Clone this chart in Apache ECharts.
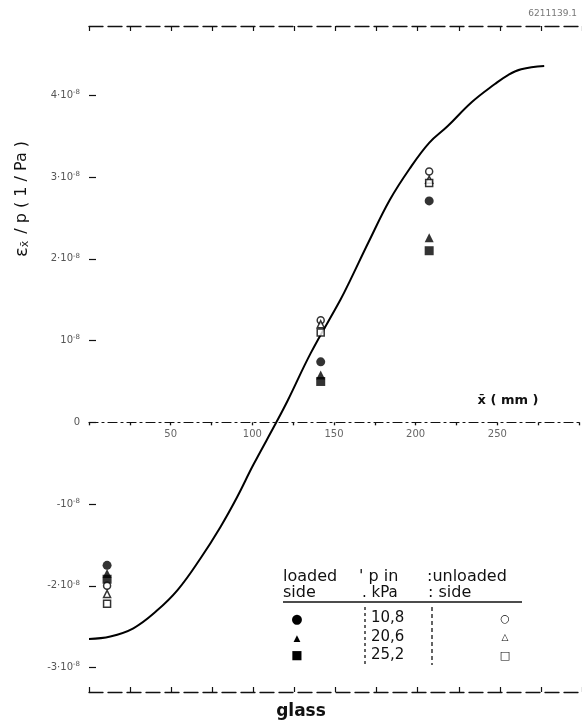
<!DOCTYPE html>
<html>
<head>
<meta charset="utf-8">
<script src="https://cdn.jsdelivr.net/npm/echarts@6/dist/echarts.min.js"></script>
<style>html,body{margin:0;padding:0;background:#fff;}#c{width:582px;height:727px;}</style>
</head>
<body>
<div id="c"></div>
<script>
// Values of eps/p are in units of 1e-8 1/Pa
const curveX = [0,13,27,41,54,68,80,90,100,114,121,135,153,159,170,183,195,207,218,233,247,255,263,277];
const curveY = [-2.65,-2.62,-2.52,-2.31,-2.05,-1.66,-1.28,-0.92,-0.52,0,0.27,0.85,1.5,1.74,2.2,2.72,3.1,3.42,3.62,3.92,4.14,4.25,4.32,4.36];

const pointX = [11, 141, 207];
const loadedCircle   = [-1.75, 0.74, 2.71];   // 10,8 kPa
const loadedTriangle = [-1.85, 0.58, 2.26];   // 20,6 kPa
const loadedSquare   = [-1.92, 0.50, 2.10];   // 25,2 kPa
const unloadedCircle   = [-2.00, 1.25, 3.07];
const unloadedTriangle = [-2.10, 1.20, 2.97];
const unloadedSquare   = [-2.22, 1.10, 2.93];

const yTickValues = [4, 3, 2, 1, 0, -1, -2, -3];
const yTickLabels = ['4·10{s|-8}', '3·10{s|-8}', '2·10{s|-8}', '10{s|-8}', '0', '-10{s|-8}', '-2·10{s|-8}', '-3·10{s|-8}'];
const xLabelValues = [50, 100, 150, 200, 250];

const pressures = ['10,8', '20,6', '25,2'];

const zip = (xs, ys) => xs.map((x, i) => [x, ys[i]]);
const FONT = 'DejaVu Sans';

const Y_MIN = -3.3, Y_MAX = 4.85;
const GRID_TOP = 26, GRID_BOTTOM = 35, H = 727;
const plotH = H - GRID_TOP - GRID_BOTTOM;
const zeroFromBottom = H - (GRID_TOP + plotH * Y_MAX / (Y_MAX - Y_MIN));

const chart = echarts.init(document.getElementById('c'));

const frameAxis = (pos) => ({
  type: 'value', gridIndex: 0, min: 0, max: 300, interval: 25, position: pos,
  axisLine: { show: true, onZero: false, lineStyle: { color: '#111', width: 1.3, type: [14, 5] } },
  axisTick: { show: true, inside: true, length: 5, lineStyle: { color: '#111', width: 1.2 } },
  axisLabel: { show: false }, splitLine: { show: false }
});

chart.setOption({
  animation: false,
  backgroundColor: '#fff',
  grid: [
    { left: 89, right: 0, top: GRID_TOP, bottom: GRID_BOTTOM },
    { left: 89, right: 0, top: GRID_TOP, bottom: zeroFromBottom }
  ],
  xAxis: [
    frameAxis('bottom'),
    frameAxis('top'),
    {
      type: 'value', gridIndex: 1, min: 0, max: 300, interval: 25, position: 'bottom',
      axisLine: { show: true, onZero: false, lineStyle: { color: '#111', width: 1.2, type: [9, 4, 2, 4] } },
      axisTick: { show: true, length: 3, lineStyle: { color: '#111', width: 1.3 } },
      axisLabel: {
        color: '#666', fontSize: 10, fontFamily: FONT, margin: 7,
        formatter: v => xLabelValues.includes(v) ? String(v) : ''
      },
      splitLine: { show: false }
    }
  ],
  yAxis: [
    {
      type: 'value', gridIndex: 0, min: Y_MIN, max: Y_MAX, position: 'left',
      axisLine: { show: false, onZero: false },
      axisTick: { show: true, inside: true, length: 7, customValues: yTickValues, lineStyle: { color: '#111', width: 1.2 } },
      axisLabel: {
        customValues: yTickValues, margin: 9, color: '#555', fontSize: 10, fontFamily: FONT,
        formatter: v => yTickLabels[yTickValues.indexOf(v)] ?? '',
        rich: { s: { fontSize: 7, verticalAlign: 'top', color: '#555', fontFamily: FONT, padding: [0, 0, 6, 0] } }
      },
      splitLine: { show: false }
    },
    { type: 'value', gridIndex: 1, min: 0, max: 1, show: false }
  ],
  series: [
    { type: 'line', xAxisIndex: 0, yAxisIndex: 0, data: zip(curveX, curveY), smooth: 0.4, showSymbol: false, symbol: 'none',
      lineStyle: { color: '#000', width: 2 }, z: 2 },
    { type: 'scatter', xAxisIndex: 0, yAxisIndex: 0, data: zip(pointX, loadedCircle), symbol: 'circle', symbolSize: 9, itemStyle: { color: '#000' }, z: 3 },
    { type: 'scatter', xAxisIndex: 0, yAxisIndex: 0, data: zip(pointX, loadedTriangle), symbol: 'triangle', symbolSize: 9, itemStyle: { color: '#000' }, z: 3 },
    { type: 'scatter', xAxisIndex: 0, yAxisIndex: 0, data: zip(pointX, loadedSquare), symbol: 'rect', symbolSize: 9, itemStyle: { color: '#000' }, z: 3 },
    { type: 'scatter', xAxisIndex: 0, yAxisIndex: 0, data: zip(pointX, unloadedCircle), symbol: 'circle', symbolSize: 7, itemStyle: { color: '#fff', borderColor: '#000', borderWidth: 1.5 }, z: 4 },
    { type: 'scatter', xAxisIndex: 0, yAxisIndex: 0, data: zip(pointX, unloadedTriangle), symbol: 'triangle', symbolSize: 7, itemStyle: { color: '#fff', borderColor: '#000', borderWidth: 1.5 }, z: 4 },
    { type: 'scatter', xAxisIndex: 0, yAxisIndex: 0, data: zip(pointX, unloadedSquare), symbol: 'rect', symbolSize: 7, itemStyle: { color: '#fff', borderColor: '#000', borderWidth: 1.5 }, z: 4 }
  ],
  graphic: [
    { type: 'text', x: 22, y: 199, rotation: Math.PI / 2,
      style: { text: '{e|ε}{s|x̄} / p ( 1 / Pa )', align: 'center', verticalAlign: 'middle',
        font: '16px ' + FONT, fill: '#111',
        rich: { e: { fontSize: 18, fontFamily: FONT, fill: '#111' }, s: { fontSize: 11, fontFamily: FONT, verticalAlign: 'bottom', padding: [7, 2, 0, 0], fill: '#111' } } } },
    { type: 'text', x: 508, y: 401, style: { text: 'x̄ ( mm )', align: 'center', verticalAlign: 'middle', font: 'bold 13px ' + FONT, fill: '#111' } },
    { type: 'text', x: 301, y: 712, style: { text: 'glass', align: 'center', verticalAlign: 'middle', font: 'bold 17px ' + FONT, fill: '#111' } },
    { type: 'text', x: 577, y: 14, style: { text: '6211139.1', align: 'right', verticalAlign: 'middle', font: '9px ' + FONT, fill: '#777' } },
    // legend table
    { type: 'text', x: 283, y: 577, style: { text: 'loaded', align: 'left', verticalAlign: 'middle', font: '16px ' + FONT, fill: '#111' } },
    { type: 'text', x: 359, y: 577, style: { text: "' p in", align: 'left', verticalAlign: 'middle', font: '16px ' + FONT, fill: '#111' } },
    { type: 'text', x: 427, y: 577, style: { text: ':unloaded', align: 'left', verticalAlign: 'middle', font: '16px ' + FONT, fill: '#111' } },
    { type: 'text', x: 283, y: 593, style: { text: 'side', align: 'left', verticalAlign: 'middle', font: '16px ' + FONT, fill: '#111' } },
    { type: 'text', x: 362, y: 593, style: { text: '. kPa', align: 'left', verticalAlign: 'middle', font: '15px ' + FONT, fill: '#111' } },
    { type: 'text', x: 428, y: 593, style: { text: ': side', align: 'left', verticalAlign: 'middle', font: '16px ' + FONT, fill: '#111' } },
    { type: 'line', shape: { x1: 283, y1: 602, x2: 522, y2: 602 }, style: { stroke: '#111', lineWidth: 1.6 } },
    { type: 'line', shape: { x1: 365, y1: 607, x2: 365, y2: 665 }, style: { stroke: '#111', lineWidth: 1.3, lineDash: [3, 3] } },
    { type: 'line', shape: { x1: 432, y1: 607, x2: 432, y2: 665 }, style: { stroke: '#111', lineWidth: 1.3, lineDash: [4, 3] } },
    { type: 'text', x: 297, y: 620, style: { text: '●', align: 'center', verticalAlign: 'middle', font: '13px ' + FONT, fill: '#000' } },
    { type: 'text', x: 297, y: 639, style: { text: '▲', align: 'center', verticalAlign: 'middle', font: '9px ' + FONT, fill: '#000' } },
    { type: 'text', x: 297, y: 656, style: { text: '■', align: 'center', verticalAlign: 'middle', font: '12px ' + FONT, fill: '#000' } },
    { type: 'text', x: 371, y: 618, style: { text: pressures[0], align: 'left', verticalAlign: 'middle', font: '15px ' + FONT, fill: '#111' } },
    { type: 'text', x: 371, y: 637, style: { text: pressures[1], align: 'left', verticalAlign: 'middle', font: '15px ' + FONT, fill: '#111' } },
    { type: 'text', x: 371, y: 655, style: { text: pressures[2], align: 'left', verticalAlign: 'middle', font: '15px ' + FONT, fill: '#111' } },
    { type: 'text', x: 505, y: 619, style: { text: '○', align: 'center', verticalAlign: 'middle', font: 'bold 11px ' + FONT, fill: '#000' } },
    { type: 'text', x: 505, y: 638, style: { text: '△', align: 'center', verticalAlign: 'middle', font: 'bold 9px ' + FONT, fill: '#000' } },
    { type: 'text', x: 505, y: 656, style: { text: '□', align: 'center', verticalAlign: 'middle', font: 'bold 11px ' + FONT, fill: '#000' } }
  ]
});
</script>
</body>
</html>
